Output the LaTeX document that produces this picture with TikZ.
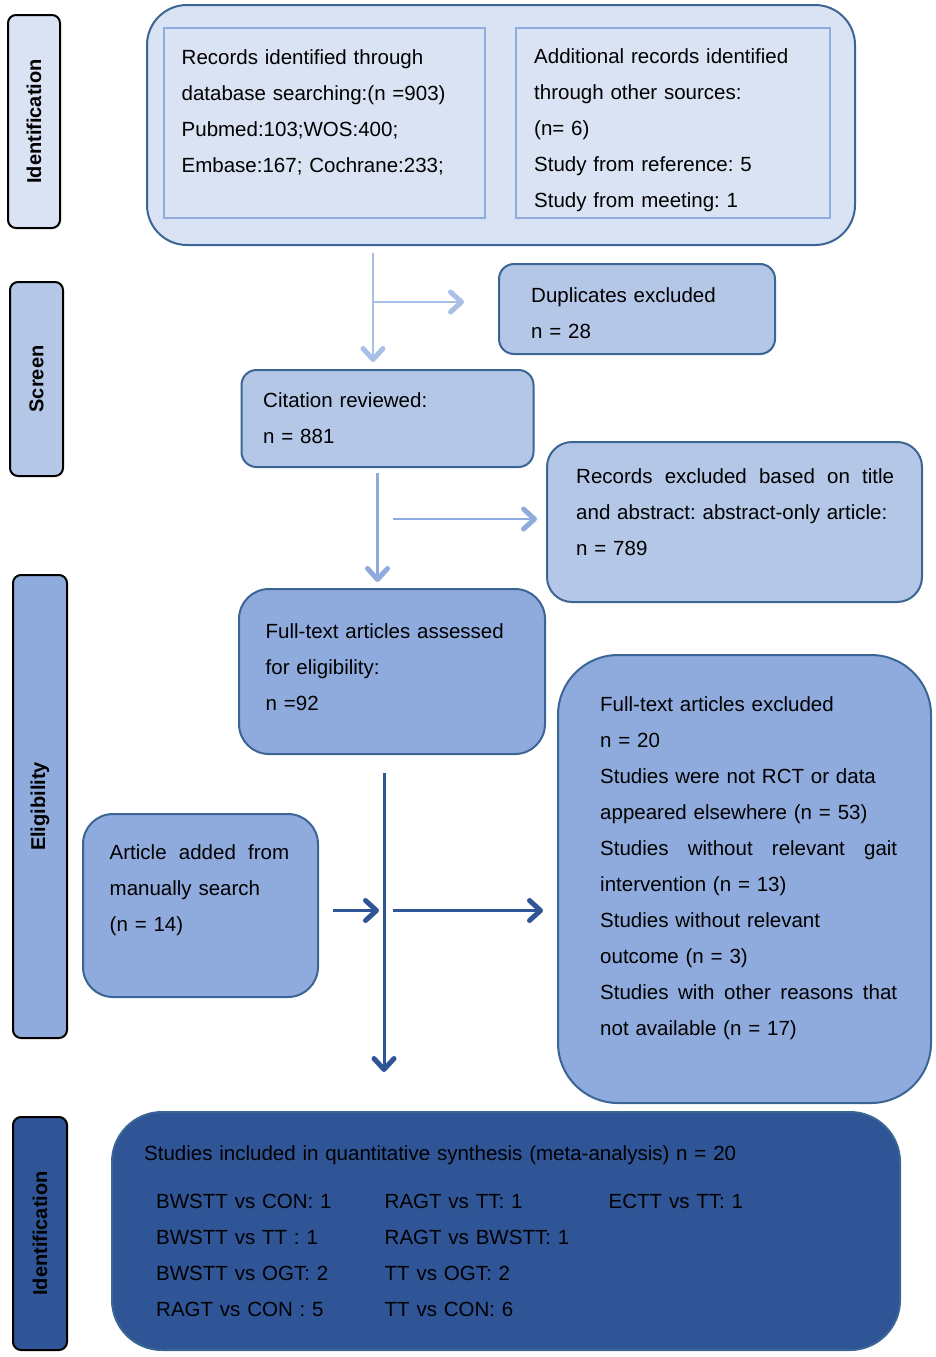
\documentclass[tikz,border=0pt]{standalone}
\usepackage{fontspec}
\setmainfont{Liberation Sans}
\usetikzlibrary{arrows.meta}
\definecolor{cA}{HTML}{DAE3F3}
\definecolor{cB}{HTML}{B4C7E7}
\definecolor{cC}{HTML}{8FAADC}
\definecolor{cD}{HTML}{2F5597}
\definecolor{bord}{HTML}{3A6595}
\definecolor{arrA}{HTML}{A9BFE5}
\newcommand{\jline}[2]{\leavevmode\hbox to #1{#2}}
\begin{document}
\frenchspacing
\begin{tikzpicture}[x=1pt,y=-1pt,
  side/.style={draw=black, line width=2pt, rounded corners=8pt, inner sep=0pt},
  sidet/.style={font=\fontsize{20}{24}\selectfont\bfseries, rotate=90},
  box/.style={draw=bord, line width=2pt, inner sep=0pt},
  inbox/.style={draw=cC, line width=2pt, fill=cA, inner sep=0pt},
  txt/.style={inner sep=0pt, anchor=base west, align=left, font=\fontsize{20.5}{36}\selectfont\frenchspacing},
  tip/.style={-{Straight Barb[length=11pt,width=20pt,line width=5pt 0, round]}},
  arA/.style={tip, draw=arrA, line width=2.8pt},
  arB/.style={tip, draw=cC, line width=2.8pt},
  arC/.style={tip, draw=cD, line width=3pt}]
\useasboundingbox (0,0) rectangle (935,1357);

% side labels
\node[side, fill=cA, minimum width=52pt, minimum height=213pt] (s1) at (34,121.5) {};
\node[sidet] (s1t) at (s1.center) {Identification};
\node[side, fill=cB, minimum width=53pt, minimum height=194pt] (s2) at (36.5,379) {};
\node[sidet] (s2t) at (s2.center) {Screen};
\node[side, fill=cC, minimum width=54pt, minimum height=463pt] (s3) at (40,806.5) {};
\node[sidet] (s3t) at (s3.center) {Eligibility};
\node[side, fill=cD, minimum width=54pt, minimum height=233pt] (s4) at (40,1233.5) {};
\node[sidet] (s4t) at (s4.center) {Identification};

% top box
\node[box, fill=cA, rounded corners=40pt, minimum width=708pt, minimum height=240pt] (top) at (501,125) {};
\node[inbox, minimum width=321pt, minimum height=190pt] (in1) at (324.5,123) {};
\node[inbox, minimum width=314pt, minimum height=190pt] (in2) at (673,123) {};
\node[txt, text width=300pt] (t1) at (181.5,64) {Records identified through\\database searching:(n =903)\\Pubmed:103;WOS:400;\\Embase:167; Cochrane:233;};
\node[txt, text width=290pt] (t2) at (534,63) {Additional records identified\\through other sources:\\(n= 6)\\Study from reference: 5\\Study from meeting: 1};

% screen boxes
\node[box, fill=cB, rounded corners=15pt, minimum width=276pt, minimum height=90pt] (dup) at (637,309) {};
\node[txt, text width=250pt] (dupt) at (531,302) {Duplicates excluded\\n = 28};
\node[box, fill=cB, rounded corners=15pt, minimum width=292pt, minimum height=97pt] (cit) at (387.5,418.5) {};
\node[txt, text width=260pt] (citt) at (263,407) {Citation reviewed:\\n = 881};
\node[box, fill=cB, rounded corners=25pt, minimum width=375pt, minimum height=160pt] (rex) at (734.5,522) {};
\node[txt, text width=318pt] (rext) at (576,483.5) {\jline{318pt}{Records\hfill excluded\hfill based\hfill on\hfill title}\\and abstract: abstract-only article:\\n = 789};

% eligibility boxes
\node[box, fill=cC, rounded corners=30pt, minimum width=306pt, minimum height=165pt] (fta) at (392,671.5) {};
\node[txt, text width=280pt] (ftat) at (265.5,638) {Full-text articles assessed\\for eligibility:\\n =92};
\node[box, fill=cC, rounded corners=60pt, minimum width=373pt, minimum height=448pt] (fte) at (744.5,879) {};
\node[txt, text width=297pt] (ftet) at (600,711.5) {Full-text articles excluded\\n = 20\\Studies were not RCT or data\\appeared elsewhere (n = 53)\\\jline{297pt}{Studies\hfill without\hfill relevant\hfill gait}\\intervention (n = 13)\\Studies without relevant\\outcome (n = 3)\\\jline{297pt}{Studies\hfill with\hfill other\hfill reasons\hfill that}\\not available (n = 17)};
\node[box, fill=cC, rounded corners=30pt, minimum width=235pt, minimum height=183pt] (man) at (200.5,905.5) {};
\node[txt, text width=180pt] (mant) at (109.5,859.5) {\jline{179.5pt}{Article\hfill added\hfill from}\\manually search\\(n = 14)};

% included
\node[box, fill=cD, rounded corners=50pt, minimum width=788pt, minimum height=238pt] (inc) at (506,1231) {};
\node[txt, text width=700pt] (inct) at (144,1160) {Studies included in quantitative synthesis (meta-analysis) n = 20};
\node[txt, text width=220pt] (c1) at (156,1208.5) {BWSTT vs CON: 1\\BWSTT vs TT : 1\\BWSTT vs OGT: 2\\RAGT vs CON : 5};
\node[txt, text width=220pt] (c2) at (384.5,1208.5) {RAGT vs TT: 1\\RAGT vs BWSTT: 1\\TT vs OGT: 2\\TT vs CON: 6};
\node[txt, text width=200pt] (c3) at (608.5,1208.5) {ECTT vs TT: 1};

% arrows
\coordinate (a1s) at (373,253);
\coordinate (a1b) at (373,302);
\draw[arA] (a1s) -- (a1s |- cit.north) [shorten >=7pt];
\draw[arA] (a1b) -- (a1b -| dup.west) [shorten >=34pt];
\coordinate (a2s) at (377.5,473);
\coordinate (a2b) at (393,519);
\draw[arB] (a2s) -- (a2s |- fta.north) [shorten >=6pt];
\draw[arB] (a2b) -- (a2b -| rex.west) [shorten >=9pt];
\coordinate (a3s) at (384,773);
\coordinate (a3b) at (392.5,910.5);
\draw[arC] (a3s) -- (a3s |- inc.north) [shorten >=39pt];
\draw[arC] (man.east |- a3b) -- (a3s |- a3b) [shorten <=14pt, shorten >=5pt];
\draw[arC] (a3b) -- (a3b -| fte.west) [shorten >=14pt];
\end{tikzpicture}
\end{document}
